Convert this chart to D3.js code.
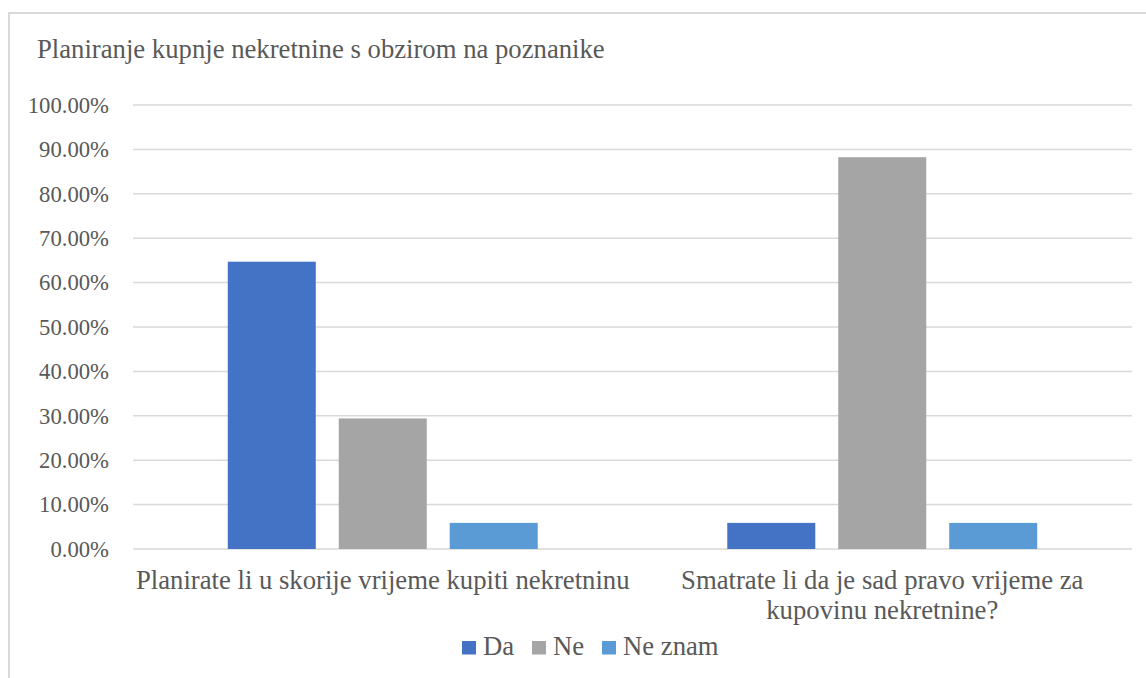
<!DOCTYPE html>
<html>
<head>
<meta charset="utf-8">
<script src="https://cdn.jsdelivr.net/npm/d3@7"></script>
<style>
  body { margin: 0; background: #fff; }
</style>
</head>
<body>
<div id="chart"></div>
<script>
const title = "Planiranje kupnje nekretnine s obzirom na poznanike";
const categories = ["Planirate li u skorije vrijeme kupiti nekretninu", "Smatrate li da je sad pravo vrijeme za kupovinu nekretnine?"];
const seriesNames = ["Da", "Ne", "Ne znam"];
const da = [64.71, 5.88];
const ne = [29.41, 88.24];
const neZnam = [5.88, 5.88];
const yTicks = [0, 10, 20, 30, 40, 50, 60, 70, 80, 90, 100];

const colors = ["#4472C4", "#A5A5A5", "#5B9BD5"];
const seriesValues = [da, ne, neZnam];
const FONT = "Liberation Serif, Times New Roman, serif";
const BIG = 26.7, SMALL = 22.7;

const width = 1146, height = 678;
const margin = { top: 105, right: 14, bottom: 129, left: 133 };

const svg = d3.select("#chart").append("svg")
    .attr("width", width)
    .attr("height", height)
    .attr("font-family", FONT);

// chart frame (runs off the right and bottom edge)
svg.append("rect")
    .attr("x", 9).attr("y", 13)
    .attr("width", width + 20).attr("height", height + 20)
    .attr("fill", "none")
    .attr("stroke", "#d9d9d9")
    .attr("stroke-width", 2);

svg.append("text")
    .attr("x", 37).attr("y", 58)
    .attr("font-size", BIG)
    .attr("fill", "#595959")
    .text(title);

const x0 = d3.scaleBand()
    .domain(categories)
    .range([margin.left, width - margin.right])
    .padding(0);

const x1 = d3.scaleBand()
    .domain(seriesNames)
    .range([0, x0.bandwidth()])
    .paddingInner(0.207)
    .paddingOuter(0.854);

const y = d3.scaleLinear()
    .domain([0, 100])
    .range([height - margin.bottom, margin.top]);

// grid
svg.append("g")
  .selectAll("line")
  .data(yTicks)
  .join("line")
    .attr("x1", margin.left)
    .attr("x2", width - margin.right)
    .attr("y1", d => y(d))
    .attr("y2", d => y(d))
    .attr("stroke", "#d9d9d9")
    .attr("stroke-width", 1.5);

// y axis labels
const yAxis = svg.append("g")
    .attr("transform", `translate(${margin.left},0)`)
    .call(d3.axisLeft(y).tickValues(yTicks).tickFormat(d => d.toFixed(2) + "%").tickSize(0).tickPadding(24));
yAxis.attr("font-family", FONT).attr("font-size", SMALL);
yAxis.select(".domain").remove();
yAxis.selectAll("text")
    .attr("fill", "#595959");

// bars
const rows = categories.map((c, i) => ({ cat: c, vals: seriesNames.map((s, j) => ({ s, v: seriesValues[j][i], c: colors[j] })) }));

svg.append("g")
  .selectAll("g")
  .data(rows)
  .join("g")
    .attr("transform", d => `translate(${x0(d.cat)},0)`)
  .selectAll("rect")
  .data(d => d.vals)
  .join("rect")
    .attr("x", d => x1(d.s))
    .attr("width", x1.bandwidth())
    .attr("y", d => y(d.v))
    .attr("height", d => y(0) - y(d.v))
    .attr("fill", d => d.c);

// category labels
function wrap(textSel, w) {
  textSel.each(function() {
    const text = d3.select(this);
    const words = text.text().split(/\s+/);
    const xPos = text.attr("x");
    text.text(null);
    let line = [];
    let tspan = text.append("tspan").attr("x", xPos).attr("dy", 0);
    for (const word of words) {
      line.push(word);
      tspan.text(line.join(" "));
      if (tspan.node().getComputedTextLength() > w && line.length > 1) {
        line.pop();
        tspan.text(line.join(" "));
        line = [word];
        tspan = text.append("tspan").attr("x", xPos).attr("dy", 30).text(word);
      }
    }
  });
}

svg.append("g")
  .selectAll("text")
  .data(categories)
  .join("text")
    .attr("x", d => x0(d) + x0.bandwidth() / 2)
    .attr("y", 589)
    .attr("text-anchor", "middle")
    .attr("font-size", BIG)
    .attr("fill", "#595959")
    .text(d => d)
    .call(wrap, x0.bandwidth());

// legend
const legendX = [462, 532, 602];
const legend = svg.append("g")
  .selectAll("g")
  .data(seriesNames)
  .join("g")
    .attr("transform", (d, i) => `translate(${legendX[i]},641)`);
legend.append("rect")
    .attr("width", 14).attr("height", 13.5)
    .attr("fill", (d, i) => colors[i]);
legend.append("text")
    .attr("x", 21).attr("y", 14)
    .attr("font-size", BIG)
    .attr("fill", "#595959")
    .text(d => d);
</script>
</body>
</html>
